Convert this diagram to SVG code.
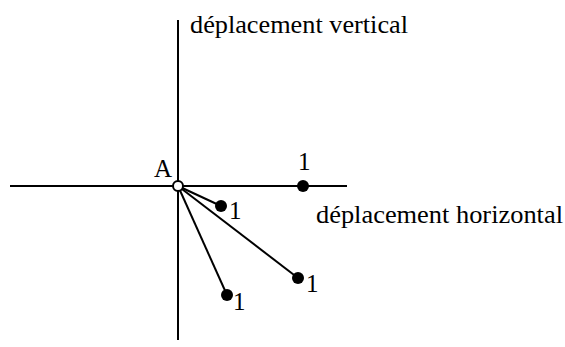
<svg xmlns="http://www.w3.org/2000/svg" width="565" height="347" viewBox="0 0 565 347">
<style>
.ax{stroke:#000;stroke-width:2;fill:none}
.t{font-family:"Liberation Serif","Times New Roman",serif;font-size:25px;fill:#000}
.dot{fill:#000}
</style>
<rect width="565" height="347" fill="#fff"/>
<g id="connectors">
<line class="ax" x1="178" y1="20" x2="178" y2="340"/>
<line class="ax" x1="10" y1="186" x2="347" y2="186"/>
<line class="ax" x1="178" y1="186" x2="221" y2="206"/>
<line class="ax" x1="178" y1="186" x2="298" y2="278"/>
<line class="ax" x1="178" y1="186" x2="227" y2="295"/>
</g>
<g id="labels">
<text class="t" x="190" y="33" textLength="218" lengthAdjust="spacingAndGlyphs">déplacement vertical</text>
<text class="t" x="316" y="223" textLength="247" lengthAdjust="spacingAndGlyphs">déplacement horizontal</text>
</g>
<g id="A"><circle cx="178" cy="186" r="5" fill="#fff" stroke="#000" stroke-width="2"/><text class="t" x="154" y="177">A</text></g>
<g id="p1"><circle class="dot" cx="303" cy="186" r="6"/><text class="t" x="298" y="170">1</text></g>
<g id="p2"><circle class="dot" cx="221" cy="206" r="6"/><text class="t" x="229" y="219">1</text></g>
<g id="p3"><circle class="dot" cx="298" cy="278" r="6"/><text class="t" x="306" y="292">1</text></g>
<g id="p4"><circle class="dot" cx="227" cy="295" r="6"/><text class="t" x="233" y="310">1</text></g>
</svg>
